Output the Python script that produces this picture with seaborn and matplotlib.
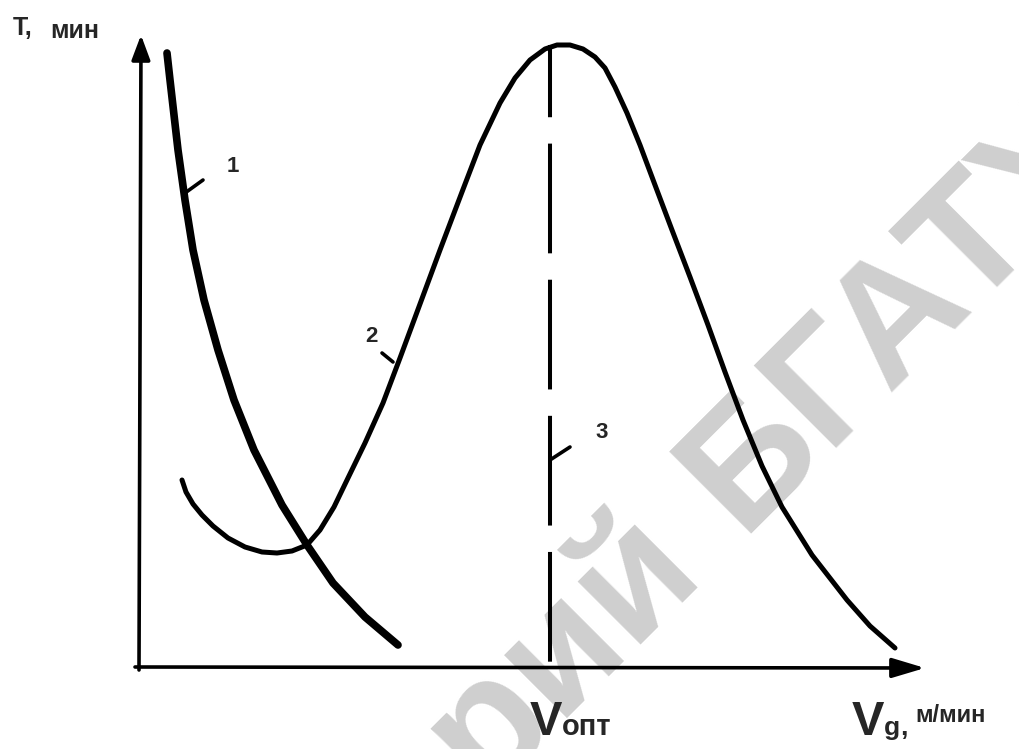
import numpy as np
import seaborn as sns
import matplotlib.pyplot as plt

# arbitrary units: x - cutting speed, y - tool life (origin at the axes corner)
# curve 1
c1_x = [29, 32, 36, 40, 47, 55, 66, 80, 96, 116, 144, 169, 195, 227, 260]
c1_y = [614, 587, 552, 517, 467, 417, 367, 317, 267, 217, 162, 122, 84, 50, 22]

# curve 2
c2_x = [44, 48, 55, 64, 75, 90, 107, 124, 139, 154, 169, 182, 196, 210, 227, 245,
        262, 282, 302, 324, 342, 362, 377, 392, 407, 419, 432, 445, 457, 467,
        477, 489, 502, 517, 534, 552, 570, 587, 605, 624, 644, 674, 709, 732, 757]
c2_y = [187, 175, 163, 152, 141, 129, 120, 115, 114, 116, 122, 137, 160, 189, 224, 264,
        309, 363, 417, 475, 522, 564, 589, 607, 618, 622, 622, 618, 610, 599,
        580, 554, 522, 482, 437, 390, 342, 295, 247, 201, 160, 112, 67, 41, 19]

# curve 3 (optimum speed)
v_opt = 412
c3_y = [0, 622]

# leader ticks for the labels: (x0, y0, x1, y1)
leaders = {"1": (47, 474, 65, 487), "2": (244, 314, 255, 305), "3": (412, 207, 432, 220)}
label_pos = {"1": (95, 501), "2": (233, 330), "3": (464, 235)}

x_end, y_end = 787, 632

sns.set_style("white")
plt.rcParams['font.family'] = ['Liberation Sans', 'DejaVu Sans']
plt.rcParams['lines.scale_dashes'] = False

fig = plt.figure(figsize=(10.19, 7.49), dpi=100)
ax = fig.add_axes([0, 0, 1, 1])
ax.set_xlim(-138, 881)
ax.set_ylim(-82, 667)
ax.axis('off')

# watermark
ax.text(566, 97, "Репозиторий", rotation=45, rotation_mode='anchor', ha='right',
        va='baseline', fontsize=122, fontweight='bold', color='#cfcfcf', zorder=0)
ax.text(602, 133, "БГАТУ", rotation=45, rotation_mode='anchor', ha='left',
        va='baseline', fontsize=122, fontweight='bold', color='#cfcfcf', zorder=0)

# axes with arrows
ax.annotate('', xy=(3, y_end), xytext=(1, -3),
            arrowprops=dict(arrowstyle='-|>,head_length=0.75,head_width=0.28',
                            mutation_scale=20, lw=2.6, color='black',
                            shrinkA=0, shrinkB=0))
ax.annotate('', xy=(x_end, -1), xytext=(-3, 0),
            arrowprops=dict(arrowstyle='-|>,head_length=1.0,head_width=0.3',
                            mutation_scale=20, lw=2.6, color='black',
                            shrinkA=0, shrinkB=0))

sns.lineplot(x=c1_x, y=c1_y, sort=False, estimator=None, color='black', lw=5.5,
             ax=ax, solid_capstyle='round', solid_joinstyle='round')
sns.lineplot(x=c2_x, y=c2_y, sort=False, estimator=None, color='black', lw=3.6,
             ax=ax, solid_capstyle='round', solid_joinstyle='round')

ax.plot([v_opt, v_opt], c3_y[::-1], color='black', lw=2.9,
        linestyle=(27, (79, 19)))

for k, (x0, y0, x1, y1) in leaders.items():
    ax.plot([x0, x1], [y0, y1], color='black', lw=2.6, solid_capstyle='round')
    ax.text(*label_pos[k], k, fontsize=16, fontweight='bold', ha='center', va='center')

# axis titles
ax.text(-125, 632, "Т,", fontsize=18, fontweight='bold', ha='left', va='baseline')
ax.text(-88, 629, "мин", fontsize=18, fontweight='bold', ha='left', va='baseline')
ax.text(392, -68, "V", fontsize=35, fontweight='bold', ha='left', va='baseline')
ax.text(424, -68, "опт", fontsize=21, fontweight='bold', ha='left', va='baseline')
ax.text(714, -68, "V", fontsize=35, fontweight='bold', ha='left', va='baseline')
ax.text(746, -68, "g", fontsize=19, fontweight='bold', ha='left', va='baseline')
ax.text(762, -68, ",", fontsize=19, fontweight='bold', ha='left', va='baseline')
ax.text(777, -55, "м/мин", fontsize=17, fontweight='bold', ha='left', va='baseline')

fig.savefig('out.png', dpi=100, facecolor='white')
